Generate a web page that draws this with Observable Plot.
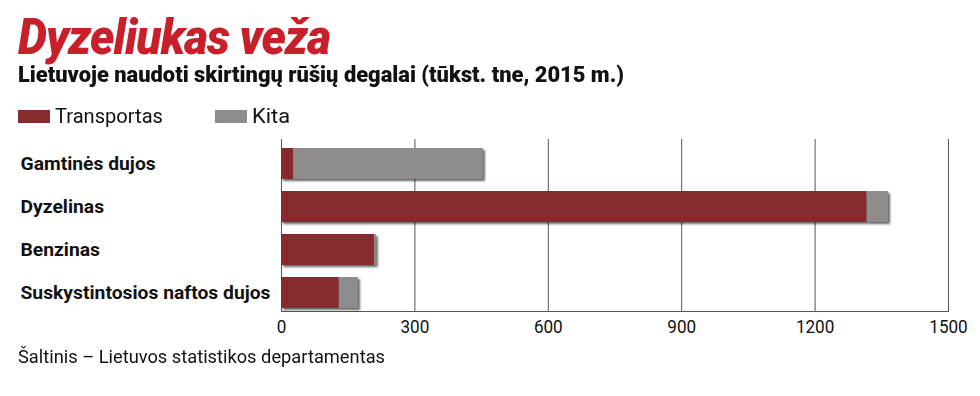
<!DOCTYPE html>
<html><head><meta charset="utf-8">
<script src="https://cdn.jsdelivr.net/npm/d3@7"></script>
<script src="https://cdn.jsdelivr.net/npm/@observablehq/plot@0.6"></script>
<style>
body{margin:0;background:#fff;width:980px;height:396px;overflow:hidden;position:relative;font-family:Roboto,"Noto Sans",sans-serif;color:#111}
.fit{position:absolute;white-space:nowrap;transform-origin:0 0}
#title{left:18px;top:8px;font-size:50px;font-weight:900;font-style:italic;color:#c8202b;letter-spacing:-1px}
#subtitle{left:18px;top:62px;font-size:22px;font-weight:900}
#legend{position:absolute;left:18px;top:104px;font-size:21px;display:flex;white-space:nowrap}
#legend .item{display:flex;align-items:center;position:relative}
#legend .sw{width:32px;height:13px;margin-right:5px;display:inline-block}
#legend .lab{display:inline-block;transform-origin:0 50%}
#chart{position:absolute;left:0;top:130px}
#caption{left:18px;top:345px;font-size:19px}
</style></head>
<body>
<div id="title" class="fit">Dyzeliukas veža</div>
<div id="subtitle" class="fit">Lietuvoje naudoti skirtingų rūšių degalai (tūkst. tne, 2015 m.)</div>
<div id="legend"></div>
<div id="chart"></div>
<div id="caption" class="fit">Šaltinis – Lietuvos statistikos departamentas</div>
<script>
const fuels = ["Gamtinės dujos", "Dyzelinas", "Benzinas", "Suskystintosios naftos dujos"];
const transportas = [27, 1317, 209, 130];
const kita = [427, 48, 4, 43];
const series = ["Transportas", "Kita"];
const colors = ["#862a2d", "#8d8b8c"];
const xTicks = [0, 300, 600, 900, 1200, 1500];

const rows = [];
fuels.forEach((f, i) => {
  rows.push({fuel: f, type: series[0], value: transportas[i]});
  rows.push({fuel: f, type: series[1], value: kita[i]});
});

// scale an HTML element horizontally so it spans the target width
function fitX(el, target) {
  const w = el.getBoundingClientRect().width;
  if (w > 0) el.style.transform = `scaleX(${target / w})`;
}

const legend = document.getElementById("legend");
const legendWidths = [108, 38];
const legendSlots = [197, 80];
series.forEach((s, i) => {
  const it = document.createElement("div");
  it.className = "item";
  it.style.width = legendSlots[i] + "px";
  it.innerHTML = `<span class="sw" style="background:${colors[i]}"></span><span class="lab">${s}</span>`;
  legend.appendChild(it);
  fitX(it.querySelector(".lab"), legendWidths[i]);
});

fitX(document.getElementById("title"), 312);
fitX(document.getElementById("subtitle"), 606);
fitX(document.getElementById("caption"), 367);

const font = 'Roboto,"Noto Sans",sans-serif';
const chart = Plot.plot({
  width: 980,
  height: 215,
  marginTop: 9,
  marginBottom: 34,
  marginLeft: 281,
  marginRight: 32,
  style: {fontFamily: font, fontSize: "19px", color: "#111", background: "#fff"},
  x: {domain: [0, 1500]},
  y: {domain: fuels, paddingInner: 0.284, paddingOuter: 0.117, align: 0.75},
  color: {domain: series, range: colors},
  marks: [
    Plot.gridX(xTicks, {stroke: "#555", strokeOpacity: 1, strokeWidth: 1}),
    Plot.frame({anchor: "bottom", stroke: "#555"}),
    Plot.barX(rows, Plot.stackX({x: "value", y: "fuel", fill: "type"})),
    Plot.axisX(xTicks, {tickSize: 0, tickPadding: 8, label: null, fill: "#111", tickFormat: d => String(d)}),
    Plot.axisY({tickSize: 0, tickPadding: 261, textAnchor: "start", label: null, fontWeight: "bold", fill: "#111"})
  ]
});
document.getElementById("chart").appendChild(chart);
d3.select(chart).selectAll('g[aria-label="bar"]').style("filter", "drop-shadow(2px 2px 1.2px rgba(0,0,0,0.6))");

// condense the category labels so the longest spans its reference width
const yTexts = d3.select(chart).selectAll('g[aria-label="y-axis tick label"] text').nodes();
const longest = d3.max(yTexts, t => t.getComputedTextLength());
const k = 250 / longest;
yTexts.forEach(t => {
  t.setAttribute("textLength", t.getComputedTextLength() * k);
  t.setAttribute("lengthAdjust", "spacingAndGlyphs");
});
const xTexts = d3.select(chart).selectAll('g[aria-label="x-axis tick label"] text').nodes();
xTexts.forEach(t => {
  t.setAttribute("textLength", t.getComputedTextLength() * 0.9);
  t.setAttribute("lengthAdjust", "spacingAndGlyphs");
});
</script>
</body></html>
